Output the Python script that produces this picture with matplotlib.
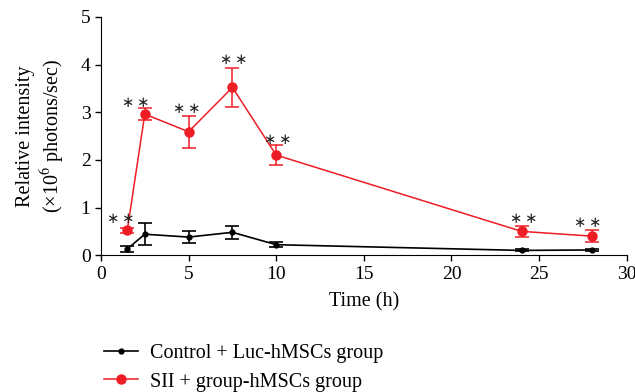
import matplotlib.pyplot as plt
from matplotlib.lines import Line2D

plt.rcParams['font.family'] = ['Liberation Serif', 'DejaVu Serif']
plt.rcParams['mathtext.fontset'] = 'stix'

time_h = [1.5, 2.5, 5, 7.5, 10, 24, 28]
control = [0.13, 0.44, 0.38, 0.48, 0.22, 0.10, 0.11]
control_err = [0.07, 0.23, 0.12, 0.13, 0.05, 0.02, 0.02]
sii = [0.52, 2.96, 2.59, 3.52, 2.10, 0.50, 0.40]
sii_err = [0.05, 0.12, 0.34, 0.41, 0.21, 0.12, 0.12]
# where the "* *" marks sit
star_x = [1.1, 2.0, 4.9, 7.55, 10.1, 24.1, 27.75]
star_y = [0.77, 3.2, 3.08, 4.1, 2.42, 0.77, 0.68]

fig = plt.figure(figsize=(6.35, 3.92), dpi=100)
ax = fig.add_axes([0.159, 0.349, 0.828, 0.608])

ax.errorbar(time_h, control, yerr=control_err, color='black', marker='o', ms=3.5,
            lw=1.2, elinewidth=1.2, capsize=5, capthick=1.2)
ax.errorbar(time_h, sii, yerr=sii_err, color='#ee1c24', marker='o', ms=6.5,
            lw=1.1, elinewidth=1.1, capsize=5, capthick=1.1)

for x, y in zip(star_x, star_y):
    ax.text(x, y, '∗\u2009∗', ha='center', va='center', fontsize=10.5,
            family=['DejaVu Sans'], color='#222222')

ax.set_xlim(0, 30)
ax.set_ylim(0, 5)
ax.set_xticks([0, 5, 10, 15, 20, 25, 30])
ax.set_yticks([0, 1, 2, 3, 4, 5])
ax.spines['top'].set_visible(False)
ax.spines['right'].set_visible(False)
ax.tick_params(direction='out', length=4, width=1, labelsize=14)
ax.set_xlabel('Time (h)', fontsize=14.5, labelpad=7)
ax.set_ylabel('Relative intensity\n(×10$^6$ photons/sec)', fontsize=14.5, labelpad=10)

handles = [Line2D([], [], color='black', marker='o', ms=3.5, lw=1.2),
           Line2D([], [], color='#ee1c24', marker='o', ms=6.5, lw=1.1)]
fig.legend(handles, ['Control + Luc-hMSCs group', 'SII + group-hMSCs group'],
           loc='lower left', bbox_to_anchor=(0.135, -0.045), frameon=False,
           fontsize=14.5, handlelength=1.7, handletextpad=0.6, labelspacing=0.45)

plt.savefig('out.png', dpi=100)
